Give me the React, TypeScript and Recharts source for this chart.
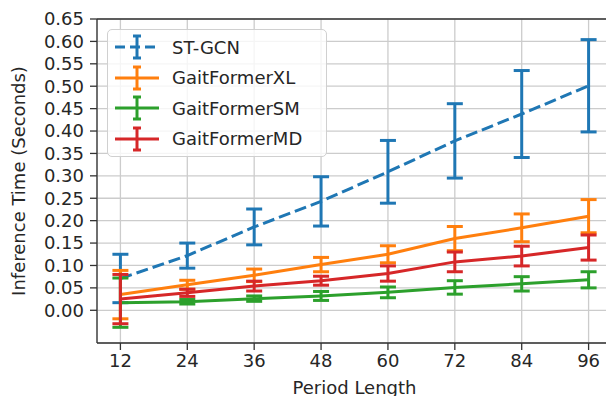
import React from 'react';
import { LineChart, Line, XAxis, YAxis, CartesianGrid, ErrorBar, ReferenceLine } from 'recharts';

const PERIODS = [12, 24, 36, 48, 60, 72, 84, 96];
const Y_TICKS = [0, 0.05, 0.1, 0.15, 0.2, 0.25, 0.3, 0.35, 0.4, 0.45, 0.5, 0.55, 0.6, 0.65];

const ST_GCN = [0.071, 0.122, 0.186, 0.243, 0.309, 0.378, 0.438, 0.501];
const ST_GCN_ERR = [0.054, 0.028, 0.04, 0.055, 0.07, 0.083, 0.097, 0.103];
const GF_XL = [0.035, 0.057, 0.078, 0.102, 0.125, 0.16, 0.184, 0.21];
const GF_XL_ERR = [0.054, 0.01, 0.014, 0.016, 0.019, 0.027, 0.031, 0.037];
const GF_SM = [0.017, 0.019, 0.026, 0.032, 0.04, 0.051, 0.059, 0.068];
const GF_SM_ERR = [0.055, 0.005, 0.006, 0.01, 0.012, 0.015, 0.016, 0.018];
const GF_MD = [0.025, 0.039, 0.054, 0.066, 0.082, 0.108, 0.121, 0.14];
const GF_MD_ERR = [0.055, 0.008, 0.011, 0.01, 0.017, 0.022, 0.022, 0.028];

const SERIES = [
  { key: 'st', name: 'ST-GCN', color: '#1f77b4', dashed: true },
  { key: 'xl', name: 'GaitFormerXL', color: '#ff7f0e', dashed: false },
  { key: 'sm', name: 'GaitFormerSM', color: '#2ca02c', dashed: false },
  { key: 'md', name: 'GaitFormerMD', color: '#d62728', dashed: false },
];

const data = PERIODS.map((p, i) => ({
  period: p,
  st: ST_GCN[i], stErr: ST_GCN_ERR[i],
  xl: GF_XL[i], xlErr: GF_XL_ERR[i],
  sm: GF_SM[i], smErr: GF_SM_ERR[i],
  md: GF_MD[i], mdErr: GF_MD_ERR[i],
}));

const FONT = '"DejaVu Sans", sans-serif';
const TEXT = '#262626';
const FS = 18;

const LegendBox = () => (
  <div style={{
    position: 'absolute', left: 107, top: 29,
    width: 220, height: 128, border: '1px solid #d0d0d0', borderRadius: 5,
    background: 'rgba(255,255,255,0.8)', fontFamily: FONT, fontSize: FS, color: TEXT,
    boxSizing: 'border-box', paddingTop: 2,
  }}>
    {SERIES.map((s) => (
      <div key={s.key} style={{ display: 'flex', alignItems: 'center', height: 30.5 }}>
        <svg width={58} height={26} style={{ marginLeft: 6, flexShrink: 0 }}>
          <line x1={1} x2={45} y1={13} y2={13} stroke={s.color} strokeWidth={3}
            strokeDasharray={s.dashed ? '10 5' : undefined} />
          <line x1={23} x2={23} y1={1} y2={25} stroke={s.color} strokeWidth={3} />
          <line x1={19} x2={27} y1={2} y2={2} stroke={s.color} strokeWidth={3} />
          <line x1={19} x2={27} y1={24} y2={24} stroke={s.color} strokeWidth={3} />
        </svg>
        <span style={{ whiteSpace: 'nowrap' }}>{s.name}</span>
      </div>
    ))}
  </div>
);

export default function App() {
  return (
    <div style={{ position: 'fixed', left: 0, top: 0, width: 606, height: 396, overflow: 'hidden', background: '#fff' }}>
      <LineChart width={640} height={396} data={data} margin={{ top: 19, right: 28, left: 0, bottom: 0 }}>
        <CartesianGrid stroke="#cccccc" strokeWidth={1.3} />
        <XAxis
          dataKey="period" type="number" domain={[7.8, 100.2]} ticks={PERIODS} allowDataOverflow interval={0}
          height={53} tickSize={7} tickMargin={4} stroke="#333" strokeWidth={1.3}
          tick={{ fill: TEXT, fontSize: FS, fontFamily: FONT }}
          label={{ value: 'Period Length', position: 'insideBottom', offset: 2, fill: TEXT, fontSize: FS, fontFamily: FONT }}
        />
        <YAxis
          type="number" domain={[-0.073, 0.65]} ticks={Y_TICKS} allowDataOverflow interval={0}
          width={97} tickSize={7} tickMargin={6} stroke="#333" strokeWidth={1.3}
          tickFormatter={(v: number) => v.toFixed(2)}
          tick={{ fill: TEXT, fontSize: FS, fontFamily: FONT }}
          label={{ value: 'Inference Time (Seconds)', angle: -90, position: 'insideLeft', offset: 19, style: { textAnchor: 'middle' }, fill: TEXT, fontSize: FS, fontFamily: FONT }}
        />
        <ReferenceLine y={0.65} stroke="#333" strokeWidth={1.3} />
        {SERIES.map((s) => (
          <Line
            key={s.key} dataKey={s.key} name={s.name} stroke={s.color} strokeWidth={3}
            strokeDasharray={s.dashed ? '12 5' : undefined} dot={false} isAnimationActive={false}
          >
            <ErrorBar dataKey={`${s.key}Err`} width={8} strokeWidth={3} stroke={s.color} direction="y" />
          </Line>
        ))}
      </LineChart>
      <LegendBox />
    </div>
  );
}
